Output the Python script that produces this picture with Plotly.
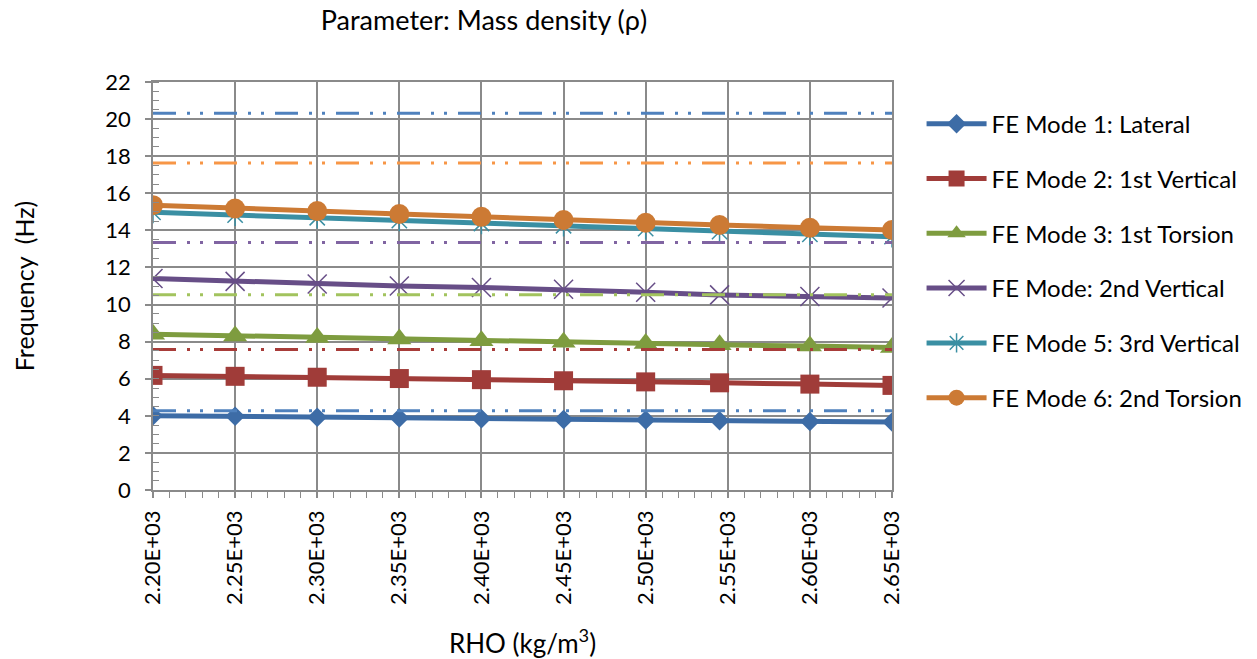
import plotly.graph_objects as go

# ---- data ----
rho = [2200, 2250, 2300, 2350, 2400, 2450, 2500, 2545, 2600, 2650]
mode1_lateral = [4.01, 3.97, 3.92, 3.88, 3.84, 3.80, 3.77, 3.73, 3.70, 3.66]
mode2_vert1 = [6.18, 6.13, 6.08, 6.01, 5.95, 5.89, 5.83, 5.78, 5.71, 5.64]
mode3_tors1 = [8.40, 8.31, 8.22, 8.14, 8.05, 7.97, 7.90, 7.83, 7.76, 7.69]
mode4_vert2 = [11.40, 11.25, 11.11, 11.00, 10.92, 10.82, 10.66, 10.52, 10.43, 10.35]
mode5_vert3 = [14.97, 14.82, 14.68, 14.53, 14.37, 14.25, 14.09, 13.93, 13.78, 13.66]
mode6_tors2 = [15.36, 15.18, 15.04, 14.88, 14.73, 14.56, 14.41, 14.29, 14.14, 14.02]

series_names = ["FE Mode 1: Lateral", "FE Mode 2: 1st Vertical", "FE Mode 3: 1st Torsion",
                "FE Mode: 2nd Vertical", "FE Mode 5: 3rd Vertical", "FE Mode 6: 2nd Torsion"]
series_values = [mode1_lateral, mode2_vert1, mode3_tors1, mode4_vert2, mode5_vert3, mode6_tors2]

# reference (measured) frequencies drawn as horizontal dash-dot-dot lines
ref_values = [20.31, 17.63, 13.35, 10.53, 7.58, 4.28]

x_tick_vals = [2200, 2250, 2300, 2350, 2400, 2450, 2500, 2550, 2600, 2650]
x_tick_text = ["2.20E+03", "2.25E+03", "2.30E+03", "2.35E+03", "2.40E+03",
               "2.45E+03", "2.50E+03", "2.55E+03", "2.60E+03", "2.65E+03"]

# ---- styles ----
FONT = "Lato"
series_colors = ["#3D6CA6", "#A03C39", "#7E9C3F", "#674E87", "#3A8FA3", "#CC7A34"]
series_symbols = ["diamond", "square", "triangle-up", "x-thin-open", "asterisk-open", "circle"]
series_sizes = [15, 19, 21, 19, 18, 20]
ref_colors = ["#4F81BD", "#F79646", "#8064A2", "#A2C35E", "#A83C39", "#4F81BD"]
GRID = "#8A8A8A"

fig = go.Figure()

for i, (name, vals) in enumerate(zip(series_names, series_values)):
    sym = series_symbols[i]
    open_sym = sym.endswith("open")
    fig.add_trace(go.Scatter(
        x=rho, y=vals, name=name, mode="lines+markers",
        legendgroup=f"g{i}",
        line=dict(color=series_colors[i], width=5),
        marker=dict(symbol=sym, size=series_sizes[i], color=series_colors[i],
                    line=dict(color=series_colors[i], width=1.5 if open_sym else 0)),
    ))

for v, c in zip(ref_values, ref_colors):
    fig.add_trace(go.Scatter(
        x=[rho[0], rho[-1]], y=[v, v], mode="lines", showlegend=False,
        line=dict(color=c, width=3, dash="23px,11px,3px,10px,3px,11px"),
        hoverinfo="skip",
    ))

fig.update_layout(
    width=1257, height=659,
    paper_bgcolor="white", plot_bgcolor="white",
    margin=dict(l=153, r=365, t=82, b=169, autoexpand=False),
    font=dict(family=FONT, size=22, color="#000000"),
    title=dict(text="Parameter: Mass density (ρ)", x=484/1257, xanchor="center",
               y=1 - 21/659, yanchor="middle", yref="container", xref="container",
               font=dict(family=FONT, size=27, color="#000000")),
    showlegend=True,
    legend=dict(x=1.040, xanchor="left", y=0.952, yanchor="top",
                font=dict(family=FONT, size=24, color="#000000"),
                tracegroupgap=20.6, itemwidth=60, bgcolor="rgba(0,0,0,0)"),
)

fig.update_xaxes(
    range=[2200, 2650], tickmode="array", tickvals=x_tick_vals, ticktext=x_tick_text,
    tickangle=-90, ticks="outside", ticklen=6, tickcolor=GRID, tickwidth=1.5,
    showgrid=True, gridcolor=GRID, gridwidth=1.5,
    showline=True, linecolor=GRID, linewidth=1.5, mirror=True,
    minor=dict(ticks="outside", ticklen=6, dtick=10, tick0=2200, tickcolor=GRID, tickwidth=1, showgrid=False),
    tickfont=dict(family=FONT, size=22),
    ticklabelstandoff=4, automargin=False,
    title=dict(text="RHO (kg/m<sup>3</sup>)", font=dict(family=FONT, size=26), standoff=34),
    zeroline=False,
)
fig.update_yaxes(
    range=[0, 22], dtick=2, tick0=0, ticks="outside", ticklen=6, tickcolor=GRID, tickwidth=1.5,
    showgrid=True, gridcolor=GRID, gridwidth=1.5,
    showline=True, linecolor=GRID, linewidth=1.5, mirror=True,
    minor=dict(ticks="inside", ticklen=6, dtick=0.5, tick0=0, tickcolor=GRID, tickwidth=1, showgrid=False),
    tickfont=dict(family=FONT, size=22),
    ticklabelstandoff=10, automargin=False,
    title=dict(text="Frequency  (Hz)", font=dict(family=FONT, size=25), standoff=64),
    zeroline=False,
)

fig.write_html("out.html")
